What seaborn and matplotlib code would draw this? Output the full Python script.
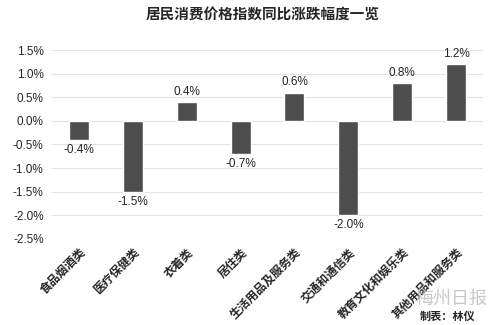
import matplotlib
matplotlib.use("Agg")
import matplotlib.pyplot as plt
import seaborn as sns
import pandas as pd

categories = ["食品烟酒类", "医疗保健类", "衣着类", "居住类", "生活用品及服务类",
              "交通和通信类", "教育文化和娱乐类", "其他用品和服务类"]
values = [-0.4, -1.5, 0.4, -0.7, 0.6, -2.0, 0.8, 1.2]
yticks = [1.5, 1.0, 0.5, 0.0, -0.5, -1.0, -1.5, -2.0, -2.5]

sns.set_theme(style="white")
plt.rcParams['font.family'] = ['Noto Sans CJK SC', 'DejaVu Sans']

df = pd.DataFrame({"cat": categories, "val": values})

fig = plt.figure(figsize=(5, 3.25), dpi=100)
ax = fig.add_axes([0.104, 0.265, 0.862, 0.581])
sns.barplot(data=df, x="cat", y="val", color="#4d4d4d", saturation=1, width=0.37, ax=ax)

ax.set_ylim(-2.5, 1.5)
ax.set_yticks(yticks)
ax.set_yticklabels([f"{v:.1f}%" for v in yticks], fontsize=8.5, family=['Liberation Sans', 'DejaVu Sans'])
ax.yaxis.grid(True, color="#e3e3e3", linewidth=0.8)
ax.set_axisbelow(True)
for s in ax.spines.values():
    s.set_visible(False)
ax.tick_params(axis='y', length=0, pad=6)
ax.tick_params(axis='x', length=0, pad=5)
ax.set_xlabel("")
ax.set_ylabel("")
ax.set_xlim(-0.5, len(categories) - 0.5)

for lbl in ax.get_xticklabels():
    lbl.set_rotation(45)
    lbl.set_ha("right")
    lbl.set_rotation_mode("anchor")
    lbl.set_fontsize(8.5)
    lbl.set_fontweight("bold")

for i, v in enumerate(values):
    if v >= 0:
        ax.annotate(f"{v:.1f}%", (i, v), xytext=(0, 3), textcoords="offset points",
                    ha="center", va="bottom", fontsize=8.5, family=['Liberation Sans', 'DejaVu Sans'])
    else:
        ax.annotate(f"{v:.1f}%", (i, v), xytext=(0, -3), textcoords="offset points",
                    ha="center", va="top", fontsize=8.5, family=['Liberation Sans', 'DejaVu Sans'])

fig.text(0.525, 0.955, "居民消费价格指数同比涨跌幅度一览", ha="center", va="center",
         fontsize=10.5, fontweight="heavy")
fig.text(0.975, 0.08, "梅州日报", ha="right", va="center", fontsize=13, color="#bbbbbb", alpha=0.8)
fig.text(0.95, 0.025, "制表：林仪", ha="right", va="center", fontsize=8, fontweight="bold")

fig.savefig("out.png", dpi=100, facecolor="white")
